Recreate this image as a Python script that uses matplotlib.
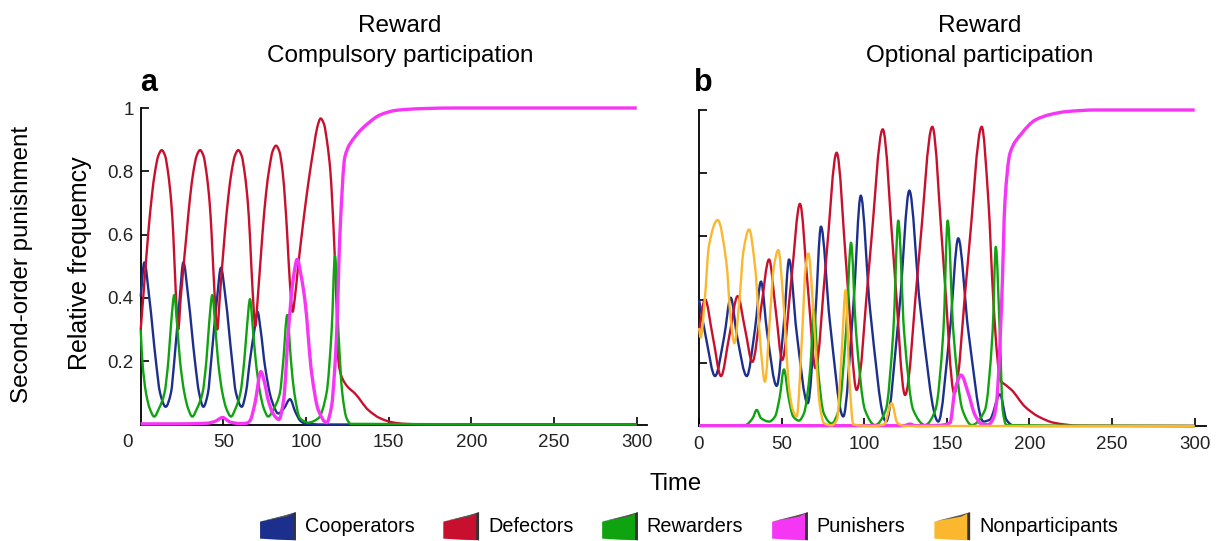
import numpy as np
import matplotlib
matplotlib.use('Agg')
import matplotlib.pyplot as plt
import matplotlib.patches as mpatches
from matplotlib.path import Path
from matplotlib.legend_handler import HandlerPatch

plt.rcParams['font.family'] = ['Liberation Sans', 'DejaVu Sans']

# colours
C_COOP = '#1c2f8c'
C_DEF = '#c8102e'
C_REW = '#0fa30f'
C_PUN = '#f536f5'
C_NON = '#fbb72e'

labels = ['Cooperators', 'Defectors', 'Rewarders', 'Punishers', 'Nonparticipants']
xticks = [0, 50, 100, 150, 200, 250, 300]
yticks = [0.2, 0.4, 0.6, 0.8, 1.0]
ytick_labels = ['0.2', '0.4', '0.6', '0.8', '1']

# ---- panel a : compulsory participation
a_coop_t = [0, 2.2, 5.2, 9.2, 11.7, 15.1, 18.3, 20.3, 23.6, 25.8, 28.8, 32.8, 35.3, 37.9,
            40.7, 42.6, 46.2, 48.5, 51.3, 55.3, 57.6, 61.1, 63.6, 66.0, 68.8, 70.7, 72.5,
            75.2, 79.2, 83.2, 86.5, 90.3, 93.5, 96.5, 99.3, 110, 300]
a_coop_v = [0.404, 0.512, 0.40, 0.20, 0.10, 0.056, 0.10, 0.20, 0.40, 0.512, 0.40, 0.20, 0.10,
            0.056, 0.10, 0.20, 0.40, 0.495, 0.40, 0.20, 0.10, 0.056, 0.10, 0.20, 0.30, 0.356,
            0.30, 0.183, 0.077, 0.035, 0.05, 0.08, 0.04, 0.012, 0.003, 0.0, 0.0]

a_def_t = [0, 1.5, 4.5, 6.7, 8.7, 10.7, 12.7, 14.7, 16.7, 18.5, 19.7, 21.2, 22.7,
           24.2, 27.7, 29.9, 31.9, 33.9, 35.9, 37.9, 39.9, 41.7, 42.9, 44.6, 46.3,
           47.8, 50.8, 53.0, 55.0, 57.0, 59.0, 61.0, 63.0, 64.8, 66.0, 67.7, 69.3,
           70.8, 73.6, 75.8, 77.8, 79.8, 81.8, 83.8, 85.8, 87.4, 88.6, 90.2, 91.9,
           93.1, 95.2, 97.4, 100.0, 102.4, 104.8, 106.8, 108.8, 110.8, 112.8, 114.7, 116.8,
           118.3, 119.6, 121.1, 125.0, 129.6, 137.6, 144.7, 152, 160, 175, 300]
a_def_v = [0.30, 0.40, 0.60, 0.72, 0.80, 0.85, 0.867, 0.85, 0.79, 0.70, 0.60, 0.42, 0.30,
           0.40, 0.60, 0.72, 0.80, 0.85, 0.867, 0.85, 0.79, 0.70, 0.60, 0.42, 0.30,
           0.40, 0.60, 0.72, 0.80, 0.85, 0.867, 0.85, 0.79, 0.70, 0.60, 0.42, 0.311,
           0.40, 0.60, 0.73, 0.81, 0.864, 0.881, 0.864, 0.80, 0.70, 0.60, 0.45, 0.356,
           0.395, 0.50, 0.60, 0.71, 0.80, 0.88, 0.94, 0.967, 0.95, 0.89, 0.80, 0.60,
           0.40, 0.20, 0.157, 0.12, 0.098, 0.046, 0.02, 0.007, 0.002, 0.0, 0.0]

a_rew_t = [0, 1.0, 3.2, 5.5, 8.2, 11.0, 14.4, 16.7, 18.4, 20.3, 22.1, 23.8, 26.4, 28.7,
           31.2, 34.0, 37.4, 39.7, 41.4, 43.3, 45.1, 46.8, 49.4, 51.8, 54.6, 57.3, 60.3,
           62.6, 64.3, 66.1, 67.9, 69.6, 72.2, 74.5, 77.1, 80.5, 84.2, 86.2, 88.6, 90.9,
           92.9, 96.3, 101.3, 107.5, 112.4, 115.5, 117.5, 119.5, 121.9, 124.5, 127, 300]
a_rew_v = [0.30, 0.20, 0.10, 0.05, 0.025, 0.05, 0.10, 0.20, 0.32, 0.409, 0.31, 0.20, 0.10,
           0.05, 0.025, 0.05, 0.10, 0.20, 0.32, 0.409, 0.31, 0.20, 0.10, 0.05, 0.025, 0.05,
           0.10, 0.20, 0.31, 0.396, 0.30, 0.20, 0.10, 0.05, 0.025, 0.05, 0.10, 0.20, 0.346,
           0.20, 0.10, 0.02, 0.006, 0.02, 0.10, 0.30, 0.533, 0.30, 0.10, 0.02, 0.002, 0.0]

a_pun_t = [0, 20, 40, 45, 49.5, 54, 60, 64, 66.1, 69.1, 72.7, 75, 77.1, 80, 83.6, 86.5,
           89.2, 92, 94.7, 97, 99.3, 103.4, 107.4, 112.4, 115.5, 117, 118.5, 120.5, 123.5,
           129.6, 137.6, 144.7, 155, 170, 190, 300]
a_pun_v = [0.002, 0.002, 0.004, 0.01, 0.022, 0.008, 0.003, 0.004, 0.012, 0.067, 0.167,
           0.13, 0.077, 0.035, 0.016, 0.08, 0.288, 0.45, 0.522, 0.47, 0.393, 0.162, 0.046,
           0.006, 0.06, 0.15, 0.288, 0.604, 0.846, 0.909, 0.952, 0.978, 0.993, 0.998, 1.0,
           1.0]

# ---- panel b : optional participation
b_coop_t = [0, 4.2, 9.7, 15.2, 19.2, 23.1, 28.9, 33.9, 37.5, 41.3, 47.0, 51.4, 54.5, 59.0,
            65.8, 70.4, 73.8, 79.2, 87.3, 93.4, 97.9, 103.5, 113.2, 121.4, 127.3, 133.8,
            144.8, 151.8, 156.9, 163.0, 172.1, 176, 182.2, 186, 190, 200, 300]
b_coop_v = [0.40, 0.28, 0.158, 0.282, 0.406, 0.282, 0.158, 0.307, 0.457, 0.292, 0.127,
            0.327, 0.527, 0.30, 0.072, 0.35, 0.631, 0.33, 0.03, 0.38, 0.729, 0.37, 0.014,
            0.38, 0.745, 0.38, 0.014, 0.30, 0.594, 0.30, 0.014, 0.02, 0.10, 0.02, 0.002,
            0.0, 0.0]

b_def_t = [0, 3.6, 8.45, 13.3, 18.35, 23.4, 27.85, 32.3, 37.35, 42.4, 46.4, 50.4, 55.75,
           61.1, 65.8, 70.5, 76.9, 83.3, 89.35, 95.4, 103.3, 111.2, 117.95, 124.7, 132.95,
           141.2, 147.85, 154.5, 162.8, 171.1, 175.1, 178.1, 180.5, 182.2, 185.5, 189.2,
           197.3, 205.4, 215, 230, 300]
b_def_v = [0.30, 0.401, 0.28, 0.158, 0.285, 0.411, 0.307, 0.203, 0.365, 0.527, 0.368,
           0.209, 0.456, 0.703, 0.443, 0.183, 0.524, 0.865, 0.49, 0.114, 0.527, 0.939,
           0.519, 0.098, 0.523, 0.947, 0.525, 0.103, 0.525, 0.947, 0.715, 0.399, 0.22,
           0.146, 0.13, 0.114, 0.061, 0.03, 0.01, 0.001, 0.0]

b_rew_t = [0, 28, 32.5, 34.9, 37.5, 42.4, 46, 48.8, 51.4, 54.2, 57, 60.5, 63.5, 67.3, 69.6,
           72.0, 75.5, 80.3, 84.5, 89.0, 92.0, 95.0, 100.5, 106.5, 113, 117.6, 120.6, 124.1,
           129.7, 136.8, 143, 147.9, 150.5, 153.9, 159.5, 165, 173, 177.7, 179.6, 182.0,
           183.8, 186, 300]
b_rew_v = [0.002, 0.003, 0.025, 0.051, 0.025, 0.014, 0.03, 0.09, 0.179, 0.09, 0.03, 0.017,
           0.04, 0.18, 0.367, 0.18, 0.04, 0.008, 0.05, 0.30, 0.58, 0.30, 0.05, 0.003, 0.05,
           0.30, 0.65, 0.30, 0.05, 0.003, 0.05, 0.30, 0.65, 0.30, 0.05, 0.003, 0.05, 0.30,
           0.567, 0.30, 0.05, 0.003, 0.0]

b_pun_t = [0, 120, 124, 127.7, 131, 145, 151.9, 154.9, 158.6, 163, 167, 171.1, 175, 178.5,
           180.2, 183.2, 185.2, 188.2, 195.3, 203.4, 212, 222.5, 240, 300]
b_pun_v = [0.001, 0.001, 0.001, 0.006, 0.001, 0.002, 0.01, 0.114, 0.161, 0.103, 0.035,
           0.006, 0.004, 0.03, 0.082, 0.399, 0.715, 0.863, 0.926, 0.968, 0.985, 0.995, 1.0,
           1.0]

b_non_t = [0, 1.0, 3.5, 6.0, 11.3, 16.5, 19.2, 21.4, 24.5, 26.8, 30.3, 34.0, 37.3, 39.9,
           43.0, 45.2, 48.0, 51.0, 54.5, 56.8, 59.1, 62.5, 64.5, 66.2, 68.5, 70.5, 73.0,
           75.5, 80, 83.5, 86, 88.8, 91, 93.4, 105, 112, 116.6, 120, 125, 300]
b_non_v = [0.31, 0.28, 0.40, 0.57, 0.652, 0.52, 0.34, 0.262, 0.40, 0.55, 0.622, 0.50,
           0.25, 0.14, 0.35, 0.50, 0.557, 0.40, 0.12, 0.05, 0.03, 0.30, 0.50, 0.546, 0.42,
           0.25, 0.07, 0.01, 0.002, 0.02, 0.20, 0.43, 0.15, 0.005, 0.0, 0.005, 0.072, 0.01,
           0.0, 0.0]


def curve(ax, t, v, color, lw):
    # smooth (monotone cubic) path through the read points
    t = np.asarray(t, float)
    v = np.asarray(v, float)
    h = np.diff(t)
    d = np.diff(v) / h
    m = np.zeros(len(t))
    m[0], m[-1] = d[0], d[-1]
    for i in range(1, len(t) - 1):
        if d[i - 1] * d[i] > 0:
            w1 = 2 * h[i] + h[i - 1]
            w2 = h[i] + 2 * h[i - 1]
            m[i] = (w1 + w2) / (w1 / d[i - 1] + w2 / d[i])
    verts = [(t[0], v[0])]
    codes = [Path.MOVETO]
    for i in range(len(h)):
        verts += [(t[i] + h[i] / 3, v[i] + m[i] * h[i] / 3),
                  (t[i + 1] - h[i] / 3, v[i + 1] - m[i + 1] * h[i] / 3),
                  (t[i + 1], v[i + 1])]
        codes += [Path.CURVE4] * 3
    ax.add_patch(mpatches.PathPatch(Path(verts, codes), facecolor='none', edgecolor=color,
                                    lw=lw, clip_on=False, zorder=3, joinstyle='round'))


def style(ax, xmax):
    ax.set_xlim(0, xmax)
    ax.set_ylim(0, 1)
    for s in ['top', 'right']:
        ax.spines[s].set_visible(False)
    for s in ['left', 'bottom']:
        ax.spines[s].set_linewidth(1.3)
    ax.tick_params(direction='in', length=6, width=1.4, labelsize=13.5, colors='#222222')
    ax.tick_params(axis='x', pad=7)
    ax.tick_params(axis='y', pad=5)
    ax.set_yticks(yticks)


W, H = 1216, 541
fig = plt.figure(figsize=(W / 100, H / 100), dpi=100)

ax_a = fig.add_axes([140.7 / W, 116.5 / H, 506 / W, 316.5 / H])
ax_b = fig.add_axes([699 / W, 115 / H, 507.3 / W, 316 / H])

style(ax_a, 306)
ax_a.set_xticks(xticks[1:])
ax_a.set_yticklabels(ytick_labels)
ax_a.text(-7.7, -0.03, '0', transform=ax_a.get_xaxis_transform(), ha='center', va='top',
          fontsize=13.5, color='#222222')

style(ax_b, 307)
ax_b.set_xticks(xticks)
ax_b.set_yticklabels([])

lw = 1.7
curve(ax_a, a_coop_t, a_coop_v, C_COOP, lw)
curve(ax_a, a_def_t, a_def_v, C_DEF, lw)
curve(ax_a, a_rew_t, a_rew_v, C_REW, lw)
curve(ax_a, a_pun_t, a_pun_v, C_PUN, 2.4)

curve(ax_b, b_coop_t, b_coop_v, C_COOP, lw)
curve(ax_b, b_def_t, b_def_v, C_DEF, lw)
curve(ax_b, b_rew_t, b_rew_v, C_REW, lw)
curve(ax_b, b_pun_t, b_pun_v, C_PUN, 2.4)
curve(ax_b, b_non_t, b_non_v, C_NON, lw)

# titles and labels
fs_title = 17.5
fig.text(400 / W, 1 - 26 / H, 'Reward', ha='center', va='center', fontsize=fs_title)
fig.text(400 / W, 1 - 56 / H, 'Compulsory participation', ha='center', va='center', fontsize=fs_title)
fig.text(980 / W, 1 - 26 / H, 'Reward', ha='center', va='center', fontsize=fs_title)
fig.text(980 / W, 1 - 56 / H, 'Optional participation', ha='center', va='center', fontsize=fs_title)
fig.text(149 / W, 1 - 83 / H, 'a', ha='center', va='center', fontsize=22, fontweight='bold')
fig.text(703 / W, 1 - 83 / H, 'b', ha='center', va='center', fontsize=22, fontweight='bold')
fig.text(80 / W, 1 - 263 / H, 'Relative frequemcy', rotation=90, ha='center', va='center', fontsize=18)
fig.text(22 / W, 1 - 264 / H, 'Second-order punishment', rotation=90, ha='center', va='center', fontsize=17.4)
fig.text(676 / W, 1 - 484 / H, 'Time', ha='center', va='center', fontsize=17.2)


class RibbonHandler(HandlerPatch):
    def create_artists(self, legend, orig_handle, xdescent, ydescent, width, height,
                       fontsize, trans):
        x0, y0 = -xdescent, -ydescent
        w, hh = width, height
        main = mpatches.Polygon(
            [(x0, y0 + 0.04 * hh), (x0, y0 + 0.66 * hh), (x0 + 0.35 * w, y0 + 0.76 * hh),
             (x0 + 0.7 * w, y0 + 0.88 * hh), (x0 + w, y0 + 1.0 * hh), (x0 + w, y0 - 0.02 * hh),
             (x0 + 0.5 * w, y0 + 0.0 * hh)],
            closed=True, facecolor=orig_handle.get_facecolor(), edgecolor='none',
            transform=trans)
        fold = mpatches.Polygon(
            [(x0 + 0.05 * w, y0 + 0.68 * hh), (x0 + 0.7 * w, y0 + 0.89 * hh),
             (x0 + w, y0 + 1.0 * hh), (x0 + 0.75 * w, y0 + 0.84 * hh)],
            closed=True, facecolor='#555555', edgecolor='none', transform=trans)
        edge = mpatches.Polygon(
            [(x0 + 0.92 * w, y0 + 0.97 * hh), (x0 + w, y0 + 1.0 * hh),
             (x0 + w, y0 - 0.02 * hh), (x0 + 0.92 * w, y0)],
            closed=True, facecolor='#333333', edgecolor='none', transform=trans)
        return [main, fold, edge]


handles = [mpatches.Patch(facecolor=c) for c in [C_COOP, C_DEF, C_REW, C_PUN, C_NON]]
fig.legend(handles, labels, handler_map={mpatches.Patch: RibbonHandler()}, loc='center',
           bbox_to_anchor=(689 / W, 15 / H), ncol=5, frameon=False, fontsize=14.3,
           handlelength=1.8, handleheight=1.75, handletextpad=0.45, columnspacing=1.45)

fig.savefig('out.png', dpi=100)
